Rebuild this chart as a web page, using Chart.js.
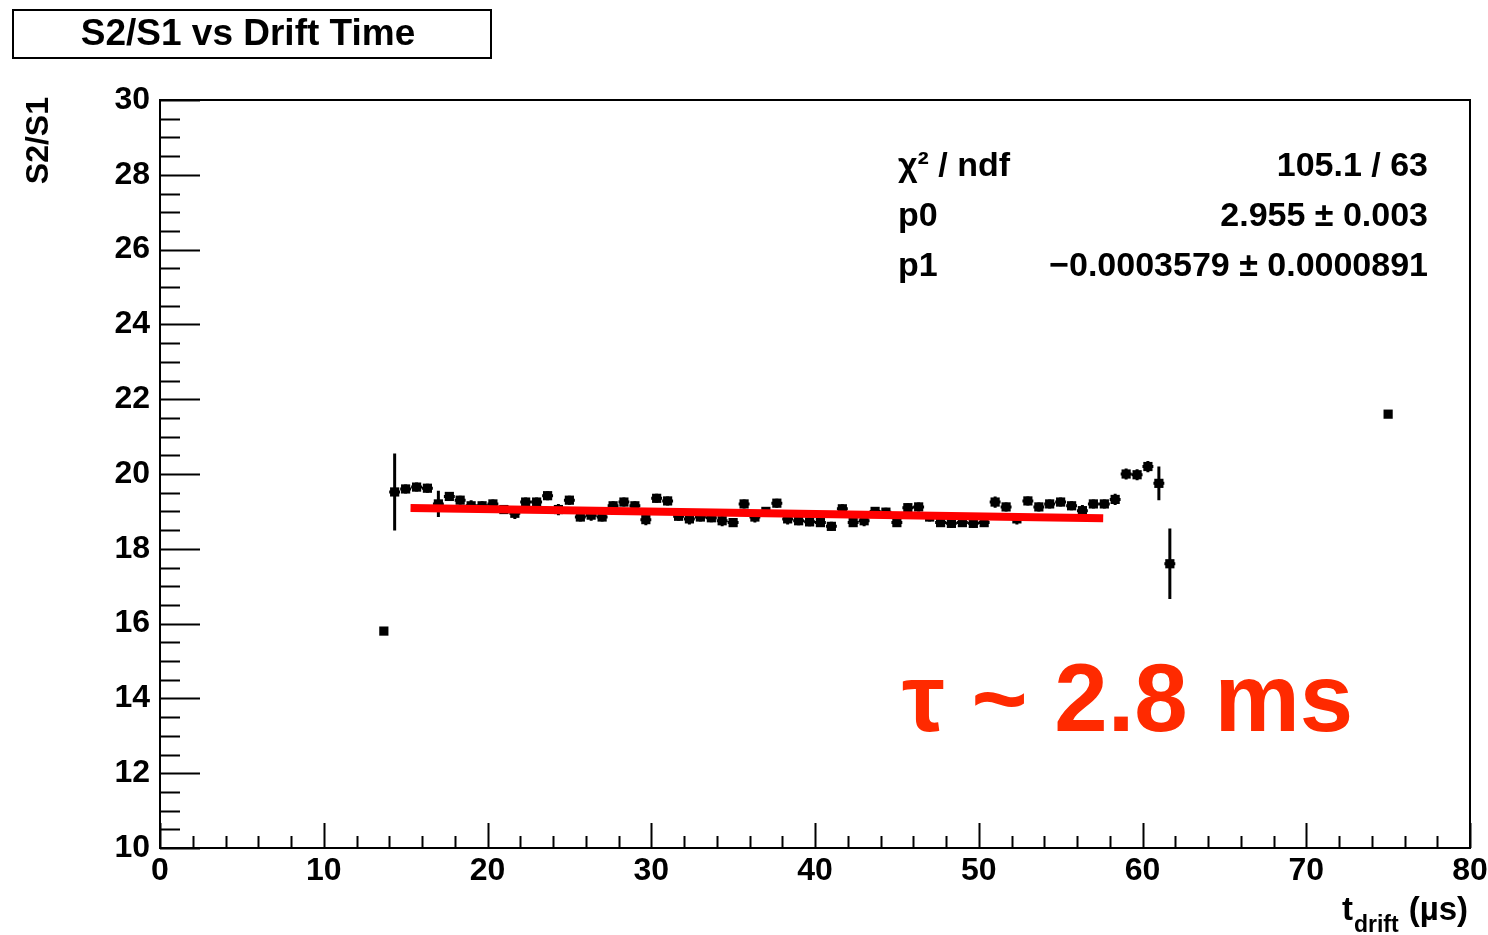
<!DOCTYPE html>
<html>
<head>
<meta charset="utf-8">
<script src="https://cdn.jsdelivr.net/npm/chart.js@4.4.1/dist/chart.umd.min.js"></script>
<style>
  html, body { margin: 0; padding: 0; background: #ffffff; }
  #wrap { width: 1488px; height: 935px; }
</style>
</head>
<body>
<div id="wrap"><canvas id="driftChart" width="1488" height="935"></canvas></div>
<script>
// drift time bin centres (us)
const driftTime = [
  13.67, 14.33, 15.00, 15.67, 16.33, 17.00, 17.67, 18.33, 19.00, 19.67,
  20.33, 21.00, 21.67, 22.33, 23.00, 23.67, 24.33, 25.00, 25.67, 26.33,
  27.00, 27.67, 28.33, 29.00, 29.67, 30.33, 31.00, 31.67, 32.33, 33.00,
  33.67, 34.33, 35.00, 35.67, 36.33, 37.00, 37.67, 38.33, 39.00, 39.67,
  40.33, 41.00, 41.67, 42.33, 43.00, 43.67, 44.33, 45.00, 45.67, 46.33,
  47.00, 47.67, 48.33, 49.00, 49.67, 50.33, 51.00, 51.67, 52.33, 53.00,
  53.67, 54.33, 55.00, 55.67, 56.33, 57.00, 57.67, 58.33, 59.00, 59.67,
  60.33, 61.00, 61.67, 75.00
];
// S2/S1 mean per bin
const ratio = [
  15.80, 19.52, 19.60, 19.65, 19.62, 19.20, 19.40, 19.30, 19.15, 19.15,
  19.20, 19.05, 18.95, 19.25, 19.25, 19.42, 19.05, 19.30, 18.85, 18.90,
  18.85, 19.15, 19.25, 19.15, 18.78, 19.35, 19.28, 18.87, 18.80, 18.85,
  18.83, 18.75, 18.70, 19.20, 18.85, 19.00, 19.22, 18.80, 18.75, 18.72,
  18.70, 18.60, 19.07, 18.70, 18.75, 19.00, 18.98, 18.70, 19.10, 19.12,
  18.85, 18.70, 18.68, 18.70, 18.68, 18.70, 19.25, 19.12, 18.80, 19.28,
  19.12, 19.20, 19.25, 19.15, 19.02, 19.20, 19.20, 19.32, 20.00, 19.98,
  20.20, 19.75, 17.60, 21.60
];
// vertical error per bin
const ratioErr = [
  0.00, 1.03, 0.12, 0.12, 0.12, 0.35, 0.12, 0.12, 0.15, 0.12,
  0.12, 0.12, 0.15, 0.12, 0.12, 0.12, 0.15, 0.12, 0.12, 0.15,
  0.12, 0.12, 0.12, 0.12, 0.15, 0.12, 0.12, 0.12, 0.15, 0.12,
  0.12, 0.15, 0.12, 0.12, 0.15, 0.12, 0.12, 0.15, 0.12, 0.12,
  0.12, 0.12, 0.12, 0.12, 0.15, 0.12, 0.12, 0.12, 0.12, 0.12,
  0.12, 0.12, 0.12, 0.12, 0.12, 0.12, 0.15, 0.12, 0.15, 0.12,
  0.12, 0.12, 0.12, 0.12, 0.15, 0.12, 0.12, 0.15, 0.15, 0.15,
  0.15, 0.45, 0.94, 0.00
];
const halfBin = 0.333;

// fit line ends
const fitX = [15.3, 57.6];
const fitY = [19.09, 18.82];

const xTicks = [0, 10, 20, 30, 40, 50, 60, 70, 80];
const yTicks = [10, 12, 14, 16, 18, 20, 22, 24, 26, 28, 30];

const statsRows = [
  ['χ² / ndf', '105.1 / 63'],
  ['p0', '2.955 ± 0.003'],
  ['p1', '−0.0003579 ± 0.0000891']
];

const FONT = '"Liberation Sans", Arial, Helvetica, sans-serif';

// ROOT-like frame, inner ticks, error bars and labels
const rootDecor = {
  id: 'rootDecor',
  beforeDatasetsDraw(chart) {
    const { ctx, scales: { x, y } } = chart;
    ctx.save();
    ctx.strokeStyle = '#000';
    ctx.lineWidth = 3;
    ctx.beginPath();
    driftTime.forEach((t, i) => {
      const px = x.getPixelForValue(t);
      const py = y.getPixelForValue(ratio[i]);
      if (ratioErr[i] > 0) {
        ctx.moveTo(x.getPixelForValue(t - halfBin), py);
        ctx.lineTo(x.getPixelForValue(t + halfBin), py);
        ctx.moveTo(px, y.getPixelForValue(ratio[i] - ratioErr[i]));
        ctx.lineTo(px, y.getPixelForValue(ratio[i] + ratioErr[i]));
      }
    });
    ctx.stroke();
    ctx.restore();
  },
  afterDraw(chart) {
    const { ctx, chartArea: a, scales: { x, y } } = chart;
    ctx.save();
    ctx.strokeStyle = '#000';
    ctx.lineWidth = 2;
    ctx.strokeRect(a.left, a.top, a.right - a.left, a.bottom - a.top);

    ctx.beginPath();
    for (let v = 10; v <= 30.001; v += 0.5) {
      const py = Math.round(y.getPixelForValue(v)) + 0.5;
      const len = Math.abs(v % 2) < 0.01 ? 40 : 20;
      ctx.moveTo(a.left, py);
      ctx.lineTo(a.left + len, py);
    }
    for (let v = 0; v <= 80.001; v += 2) {
      const px = Math.round(x.getPixelForValue(v)) + 0.5;
      const len = Math.abs(v % 10) < 0.01 ? 25 : 12;
      ctx.moveTo(px, a.bottom);
      ctx.lineTo(px, a.bottom - len);
    }
    ctx.stroke();

    // title box
    ctx.lineWidth = 2;
    ctx.strokeRect(13, 10, 478, 48);
    ctx.fillStyle = '#000';
    ctx.textAlign = 'center';
    ctx.textBaseline = 'middle';
    ctx.font = 'bold 37px ' + FONT;
    ctx.fillText('S2/S1 vs Drift Time', 248, 35);

    // y axis title
    ctx.save();
    ctx.translate(39, 97);
    ctx.rotate(-Math.PI / 2);
    ctx.textAlign = 'right';
    ctx.font = 'bold 32px ' + FONT;
    ctx.fillText('S2/S1', 0, 0);
    ctx.restore();

    // x axis title
    ctx.textBaseline = 'alphabetic';
    ctx.textAlign = 'right';
    ctx.font = 'bold 33px ' + FONT;
    ctx.fillText('(µs)', 1468, 920);
    const w1 = ctx.measureText('(µs)').width;
    ctx.font = 'bold 23px ' + FONT;
    ctx.fillText('drift', 1468 - w1 - 10, 932);
    const w2 = ctx.measureText('drift').width;
    ctx.font = 'bold 33px ' + FONT;
    ctx.fillText('t', 1468 - w1 - 10 - w2 - 1, 920);

    // fit stats
    ctx.font = 'bold 34px ' + FONT;
    statsRows.forEach((row, i) => {
      const ty = 176 + i * 50;
      ctx.textAlign = 'left';
      ctx.fillText(row[0], 898, ty);
      ctx.textAlign = 'right';
      ctx.fillText(row[1], 1428, ty);
    });

    // lifetime annotation
    ctx.fillStyle = '#ff2a00';
    ctx.textAlign = 'left';
    ctx.font = 'bold 96px ' + FONT;
    ctx.fillText('τ ~ 2.8 ms', 902, 731);
    ctx.restore();
  }
};

const ctx = document.getElementById('driftChart');

new Chart(ctx, {
  type: 'scatter',
  data: {
    datasets: [
      {
        label: 'fit',
        type: 'line',
        order: 0,
        data: fitX.map((v, i) => ({ x: v, y: fitY[i] })),
        borderColor: '#ff0000',
        borderWidth: 8,
        pointRadius: 0,
        fill: false
      },
      {
        label: 'S2/S1',
        order: 1,
        data: driftTime.map((v, i) => ({ x: v, y: ratio[i] })),
        pointStyle: 'rect',
        pointRadius: 6.5,
        pointBorderWidth: 0,
        backgroundColor: '#000',
        borderColor: '#000'
      }
    ]
  },
  options: {
    responsive: false,
    animation: false,
    layout: { padding: { left: 0, top: 100, right: 18, bottom: 0 } },
    plugins: {
      legend: { display: false },
      tooltip: { enabled: false },
      title: { display: false }
    },
    scales: {
      x: {
        type: 'linear',
        min: 0,
        max: 80,
        afterFit: s => { s.height = 87; s.paddingLeft = 0; s.paddingRight = 0; },
        afterBuildTicks: s => { s.ticks = xTicks.map(v => ({ value: v })); },
        grid: { display: false, drawTicks: false },
        border: { display: false },
        ticks: {
          autoSkip: false,
          maxRotation: 0,
          padding: 4,
          color: '#000',
          font: { family: FONT, size: 32, weight: 'bold' }
        }
      },
      y: {
        type: 'linear',
        min: 10,
        max: 30,
        afterFit: s => { s.width = 160; s.paddingTop = 0; s.paddingBottom = 0; },
        afterBuildTicks: s => { s.ticks = yTicks.map(v => ({ value: v })); },
        grid: { display: false, drawTicks: false },
        border: { display: false },
        ticks: {
          autoSkip: false,
          padding: 10,
          color: '#000',
          font: { family: FONT, size: 32, weight: 'bold' }
        }
      }
    }
  },
  plugins: [rootDecor]
});
</script>
</body>
</html>
